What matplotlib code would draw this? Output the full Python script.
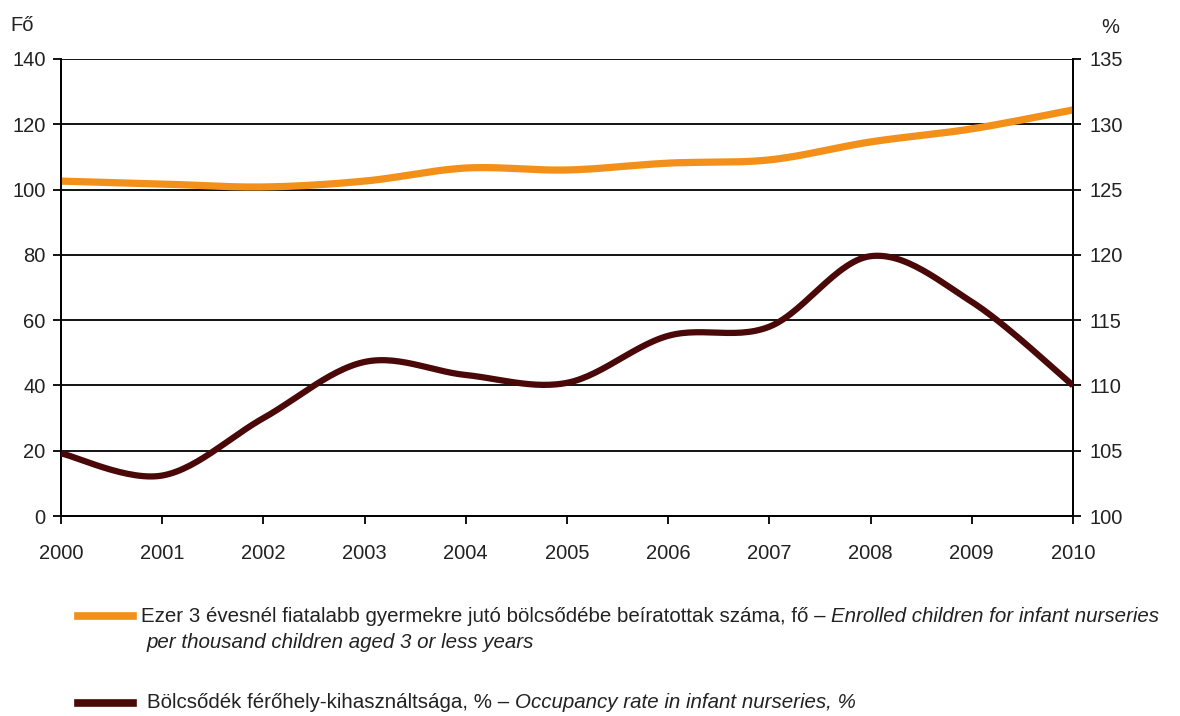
import numpy as np
import matplotlib.pyplot as plt

plt.rcParams['font.family'] = ['Liberation Sans', 'DejaVu Sans']

# Data
years = [2000, 2001, 2002, 2003, 2004, 2005, 2006, 2007, 2008, 2009, 2010]
enrolled = [102.6, 101.7, 100.8, 102.6, 106.6, 106.0, 108.1, 109.1, 114.6, 118.6, 124.4]   # left axis, Fő
occupancy = [104.8, 103.1, 107.5, 111.8, 110.8, 110.2, 113.8, 114.5, 119.9, 116.4, 110.0]  # right axis, %

left_ticks = [0, 20, 40, 60, 80, 100, 120, 140]
right_ticks = [100, 105, 110, 115, 120, 125, 130, 135]

label_hu_1 = 'Ezer 3 évesnél fiatalabb gyermekre jutó bölcsődébe beíratottak száma, fő – '
label_en_1a = 'Enrolled children for infant nurseries'
label_en_1b = 'per thousand children aged 3 or less years'
label_hu_2 = 'Bölcsődék férőhely-kihasználtsága, % – '
label_en_2 = 'Occupancy rate in infant nurseries, %'

orange = '#F39019'
dark = '#4A0808'


def smooth(x, y, n=30):
    # Excel-like smoothed line (cubic Bezier through the points)
    x = np.asarray(x, float)
    y = np.asarray(y, float)
    px = np.concatenate(([x[0]], x, [x[-1]]))
    py = np.concatenate(([y[0]], y, [y[-1]]))
    t = np.linspace(0, 1, n)[:, None]
    xs, ys = [], []
    for i in range(1, len(px) - 2):
        p0 = np.array([px[i], py[i]])
        p3 = np.array([px[i + 1], py[i + 1]])
        c1 = p0 + (np.array([px[i + 1], py[i + 1]]) - np.array([px[i - 1], py[i - 1]])) / 6
        c2 = p3 - (np.array([px[i + 2], py[i + 2]]) - np.array([px[i], py[i]])) / 6
        b = ((1 - t) ** 3) * p0 + 3 * ((1 - t) ** 2) * t * c1 + 3 * (1 - t) * t ** 2 * c2 + t ** 3 * p3
        xs.append(b[:, 0])
        ys.append(b[:, 1])
    return np.concatenate(xs), np.concatenate(ys)


fig = plt.figure(figsize=(11.8, 7.16), dpi=100)
ax = fig.add_axes([0.0517, 0.2793, 0.8576, 0.6383])
ax2 = ax.twinx()

ax.set_xlim(2000, 2010)
ax.set_ylim(0, 140)
ax2.set_ylim(100, 135)
ax.set_yticks(left_ticks)
ax2.set_yticks(right_ticks)
ax.set_xticks(years)

for y in left_ticks[1:]:
    ax.axhline(y, color='black', lw=1.3, zorder=1)

ax.spines['top'].set_visible(False)
ax2.spines['top'].set_visible(False)
for a in (ax, ax2):
    for s in a.spines.values():
        s.set_linewidth(1.3)
ax.tick_params(axis='both', direction='out', length=6, width=1.3, labelsize=14.5, pad=5, labelcolor='#222222')
ax2.tick_params(axis='y', direction='out', length=6, width=1.3, labelsize=14.5, pad=6, labelcolor='#222222')
ax.tick_params(axis='x', pad=14)

sx, sy = smooth(years, enrolled)
ax.plot(sx, sy, color=orange, lw=5.2, solid_capstyle='butt', zorder=3)
sx, sy = smooth(years, occupancy)
ax2.plot(sx, sy, color=dark, lw=4.5, solid_capstyle='butt', zorder=3)

ax.set_zorder(ax2.get_zorder() - 1)
ax.patch.set_visible(True)
ax2.patch.set_visible(False)

fig.text(0.009, 0.965, 'Fő', fontsize=14.5, va='center', ha='left', color='#222222')
fig.text(0.933, 0.962, '%', fontsize=14.5, va='center', ha='left', color='#222222')

# Legend (drawn by hand, mixed regular/italic text)
renderer = fig.canvas.get_renderer()
fig.add_artist(plt.Line2D([0.066, 0.113], [1 - 616 / 716] * 2, color=orange, lw=5.5))
fig.add_artist(plt.Line2D([0.066, 0.113], [1 - 703 / 716] * 2, color=dark, lw=5.5))

fs = 14.8
t1 = fig.text(0.1195, 1 - 616 / 716, label_hu_1, fontsize=fs, va='center', ha='left', color='#222222')
bb = t1.get_window_extent(renderer=renderer)
fig.text(bb.x1 / fig.bbox.width, 1 - 616 / 716, label_en_1a, fontsize=fs, style='italic',
         va='center', ha='left', color='#222222')
fig.text(0.1245, 1 - 642 / 716, label_en_1b, fontsize=fs, style='italic', va='center', ha='left', color='#222222')

t2 = fig.text(0.1245, 1 - 703 / 716, label_hu_2, fontsize=fs, va='center', ha='left', color='#222222')
bb = t2.get_window_extent(renderer=renderer)
fig.text(bb.x1 / fig.bbox.width, 1 - 703 / 716, label_en_2, fontsize=fs, style='italic',
         va='center', ha='left', color='#222222')

fig.savefig('out.png', dpi=100)
